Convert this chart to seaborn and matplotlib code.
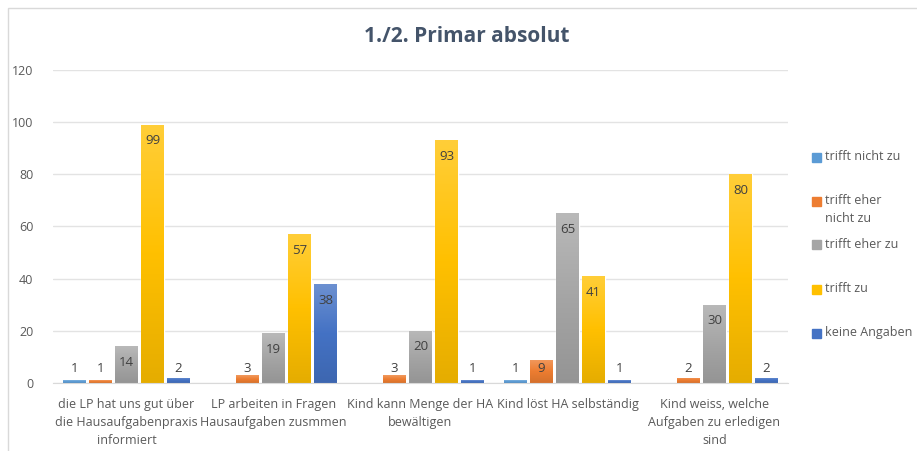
import numpy as np
import pandas as pd
import seaborn as sns
from matplotlib import pyplot as plt
from matplotlib.colors import LinearSegmentedColormap, to_rgb
from matplotlib.patches import Rectangle

aussagen = ["die LP hat uns gut über\ndie Hausaufgabenpraxis\ninformiert",
            "LP arbeiten in Fragen\nHausaufgaben zusmmen",
            "Kind kann Menge der HA\nbewältigen",
            "Kind löst HA selbständig",
            "Kind weiss, welche\nAufgaben zu erledigen\nsind"]
antworten = ["trifft nicht zu", "trifft eher nicht zu", "trifft eher zu", "trifft zu", "keine Angaben"]
legend_labels = ["trifft nicht zu", "trifft eher\nnicht zu", "trifft eher zu", "trifft zu", "keine Angaben"]

trifft_nicht_zu = [1, np.nan, np.nan, 1, np.nan]
trifft_eher_nicht_zu = [1, 3, 3, 9, 2]
trifft_eher_zu = [14, 19, 20, 65, 30]
trifft_zu = [99, 57, 93, 41, 80]
keine_angaben = [2, 38, 1, 1, 2]

farben = ["#5B9BD5", "#ED7D31", "#A5A5A5", "#FFC000", "#4472C4"]

werte = [trifft_nicht_zu, trifft_eher_nicht_zu, trifft_eher_zu, trifft_zu, keine_angaben]
rows = []
for antwort, serie in zip(antworten, werte):
    for aussage, v in zip(aussagen, serie):
        rows.append({"Aussage": aussage, "Antwort": antwort, "Anzahl": v})
df = pd.DataFrame(rows)

sns.set_style("white")
plt.rcParams['font.family'] = ['Open Sans', 'DejaVu Sans']
text_col = "#595959"

fig = plt.figure(figsize=(9.17, 4.51), dpi=100)
ax = fig.add_axes([0.0578, 0.1508, 0.8015, 0.694])

sns.barplot(data=df, x="Aussage", y="Anzahl", hue="Antwort", order=aussagen,
            hue_order=antworten, palette=farben, width=0.885, gap=0.15,
            errorbar=None, legend=False, ax=ax)


def mix(c, other, t):
    c = np.array(to_rgb(c))
    return tuple(c * (1 - t) + np.array(other) * t)


# gradient fill like in the excel chart
for cont, col in zip(ax.containers, farben):
    cmap = LinearSegmentedColormap.from_list("g", [mix(col, (0, 0, 0), 0.1), col, mix(col, (1, 1, 1), 0.22)])
    for p in cont.patches:
        h = p.get_height()
        if np.isnan(h) or h == 0:
            continue
        x0 = p.get_x()
        w = p.get_width()
        grad = np.linspace(0, 1, 100).reshape(-1, 1)
        im = ax.imshow(grad, extent=[x0, x0 + w, 0, h], origin="lower", aspect="auto",
                       cmap=cmap, zorder=p.get_zorder() + 0.1)
        im.set_clip_path(p)
        ax.text(x0 + w / 2, max(h - 6.2, 5.7), f"{h:.0f}", ha="center", va="center",
                fontsize=9.5, color="#404040", zorder=5)

ax.set_xlim(-0.5, len(aussagen) - 0.5)
ax.set_ylim(0, 120)
ax.set_yticks(range(0, 121, 20))
ax.grid(axis="y", color="#E3E3E3", lw=1)
ax.set_axisbelow(True)
for s in ["top", "right", "left"]:
    ax.spines[s].set_visible(False)
ax.spines["bottom"].set_color("#D9D9D9")
ax.spines["bottom"].set_zorder(6)
ax.tick_params(axis="both", length=0, labelsize=9, colors=text_col)
ax.tick_params(axis="y", pad=14)
ax.tick_params(axis="x", pad=11)
for t in ax.get_xticklabels():
    t.set_linespacing(1.5)
ax.set_xlabel("")
ax.set_ylabel("")

fig.text(0.509, 0.918, "1./2. Primar absolut", ha="center", va="center",
         fontsize=15, fontweight="bold", color="#44546A")

# legend
for i, (lab, col) in enumerate(zip(legend_labels, farben)):
    yc = 1 - (157 + 44 * i) / 451
    fig.add_artist(Rectangle((812 / 917, yc - 4.5 / 451), 9 / 917, 9 / 451,
                             transform=fig.transFigure, color=col))
    fig.text(825 / 917, yc + 7 / 451, lab, ha="left", va="top", fontsize=9,
             color=text_col, linespacing=1.55)

fig.add_artist(Rectangle((8 / 917, -0.05), 1.05, 1 - 8 / 451 + 0.05, transform=fig.transFigure,
                         fill=False, edgecolor="#D9D9D9", lw=1))

fig.savefig("out.png", dpi=100)
